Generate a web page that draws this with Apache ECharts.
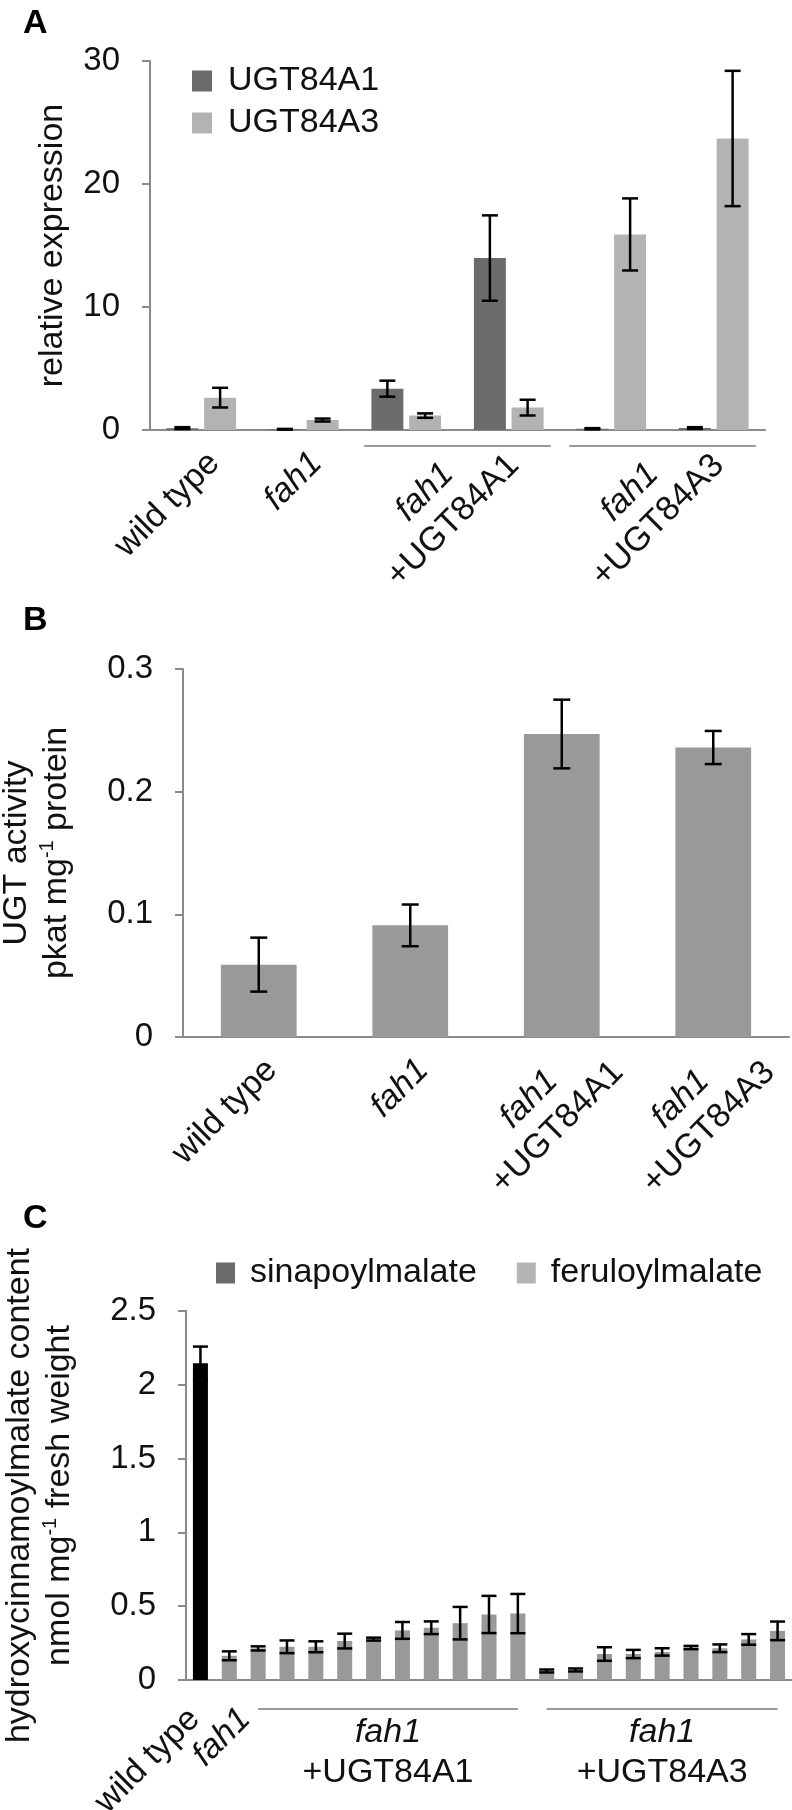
<!DOCTYPE html>
<html>
<head>
<meta charset="utf-8">
<script src="https://cdn.jsdelivr.net/npm/echarts@6/dist/echarts.min.js"></script>
<style>html,body{margin:0;padding:0;background:#fff}#chart{width:792px;height:1810px}</style>
</head>
<body>
<div id="chart"></div>
<script>
// ---------- Panel A : relative expression ----------
const categoriesA = ['wild type', 'fah1', 'fah1 +UGT84A1 (1)', 'fah1 +UGT84A1 (2)', 'fah1 +UGT84A3 (1)', 'fah1 +UGT84A3 (2)'];
const ugt84a1 = [0.15, 0.06, 3.36, 13.98, 0.10, 0.16];
const ugt84a1Err = [0.08, 0.03, 0.65, 3.47, 0.05, 0.07];
const ugt84a3 = [2.63, 0.81, 1.17, 1.82, 15.9, 23.7];
const ugt84a3Err = [0.80, 0.12, 0.18, 0.64, 2.93, 5.50];
const yTicksA = [0, 10, 20, 30];
const xLabelsA = ['wild type', 'fah1', 'fah1\n+UGT84A1', 'fah1\n+UGT84A3'];
const xLabelSpansA = [[0, 0], [1, 1], [2, 3], [4, 5]];
const bracketSpansA = [[2, 3], [4, 5]];

// ---------- Panel B : UGT activity ----------
const categoriesB = ['wild type', 'fah1', 'fah1\n+UGT84A1', 'fah1\n+UGT84A3'];
const ugtActivity = [0.059, 0.091, 0.247, 0.236];
const ugtActivityErr = [0.022, 0.017, 0.028, 0.0135];
const yTicksB = [0, 0.1, 0.2, 0.3];
const xLabelSpansB = [[0, 0], [1, 1], [2, 2], [3, 3]];

// ---------- Panel C : hydroxycinnamoylmalate content ----------
const categoriesC = ['wild type', 'fah1',
  'A1-1', 'A1-2', 'A1-3', 'A1-4', 'A1-5', 'A1-6', 'A1-7', 'A1-8', 'A1-9', 'A1-10',
  'A3-1', 'A3-2', 'A3-3', 'A3-4', 'A3-5', 'A3-6', 'A3-7', 'A3-8', 'A3-9'];
const sinapoylmalate = [2.146, null, null, null, null, null, null, null, null, null, null,
  null, null, null, null, null, null, null, null, null, null];
const sinapoylmalateErr = [0.113, null, null, null, null, null, null, null, null, null, null,
  null, null, null, null, null, null, null, null, null, null];
const feruloylmalate = [null, 0.164, 0.214, 0.225, 0.225, 0.264, 0.277, 0.336, 0.354, 0.385, 0.444, 0.450,
  0.061, 0.068, 0.176, 0.176, 0.190, 0.220, 0.215, 0.275, 0.333];
const feruloylmalateErr = [null, 0.030, 0.014, 0.043, 0.037, 0.050, 0.010, 0.057, 0.043, 0.110, 0.126, 0.133,
  0.010, 0.010, 0.046, 0.028, 0.025, 0.011, 0.026, 0.036, 0.063];
const yTicksC = [0, 0.5, 1, 1.5, 2, 2.5];
const xRotLabelsC = ['wild type', 'fah1'];
const xRotSpansC = [[0, 0], [1, 1]];
const xGroupLabelsC = ['fah1\n+UGT84A1', 'fah1\n+UGT84A3'];
const xGroupSpansC = [[2, 11], [12, 20]];

// ---------- styling / layout ----------
const W = 792;
const FONT = '"Liberation Sans", Arial, Helvetica, sans-serif';
const TXT = '#111';
const AXIS = '#8a8a8a';
const BRACKET = '#9a9a9a';
const ERR_W = 2.5;
const A_GAP = 0.32, A_BARGAP = 0.18;
const GA = { left: 150, right: 27, top: 61, height: 369 };
const GB = { left: 183, right: 3, top: 669, height: 368 };
const GC = { left: 186, right: 0, top: 1311, height: 369 };
const ROT_SHIFT_C = [-6, 16];   // px nudges of the two rotated labels in panel C
const bandA = (W - GA.left - GA.right) / categoriesA.length;
const bandB = (W - GB.left - GB.right) / categoriesB.length;
const bandC = (W - GC.left - GC.right) / categoriesC.length;

function richify(text) {
  return text.split('\n').map(l => l === 'fah1' ? '{i|fah1}' : '{n|' + l + '}').join('\n');
}
const labelRich = {
  n: { fontFamily: FONT, fontSize: 34, color: TXT, lineHeight: 40, align: 'center' },
  i: { fontFamily: FONT, fontSize: 34, color: TXT, lineHeight: 40, align: 'center', fontStyle: 'italic' }
};

function labelAxis(gridIndex, n, texts, spans, pick, rotate, margin, shiftPx, band) {
  const idx = [];
  texts.forEach((t, k) => { if (pick(t, k)) idx.push(k); });
  const pos = idx.map(k => (spans[k][0] + spans[k][1] + 1) / 2 + shiftPx / band);
  return {
    type: 'value', gridIndex, min: 0, max: n, position: 'bottom',
    axisLine: { show: false }, axisTick: { show: false }, splitLine: { show: false },
    axisLabel: {
      customValues: pos, rotate, margin, showMinLabel: true, showMaxLabel: true, hideOverlap: false,
      formatter: v => {
        const j = pos.findIndex(p => Math.abs(p - v) < 1e-6);
        return j < 0 ? '' : richify(texts[idx[j]]);
      },
      rich: labelRich
    }
  };
}

function yAxisDef(gridIndex, ticks, name, nameGap, nameRich) {
  return {
    type: 'value', gridIndex, min: ticks[0], max: ticks[ticks.length - 1], interval: ticks[1] - ticks[0],
    axisLine: { show: true, lineStyle: { color: AXIS, width: 2 } },
    axisTick: { show: true, inside: false, length: 8, lineStyle: { color: AXIS, width: 2 } },
    splitLine: { show: false },
    axisLabel: { fontFamily: FONT, fontSize: 33, color: TXT, margin: 30 },
    name, nameLocation: 'middle', nameGap,
    nameTextStyle: Object.assign({ fontFamily: FONT, fontSize: 34, color: TXT, lineHeight: 40 }, nameRich ? { rich: nameRich } : {})
  };
}

function errSeries(xi, yi, vals, errs, offsetFn, cap) {
  const data = [];
  vals.forEach((v, i) => { if (v != null && errs[i] != null) data.push([i, v, errs[i]]); });
  return {
    type: 'custom', xAxisIndex: xi, yAxisIndex: yi, z: 10, silent: true,
    data,
    renderItem: (params, api) => {
      const i = api.value(0), v = api.value(1), e = api.value(2);
      const bw = api.size([1, 0])[0];
      const cx = api.coord([i, v])[0] + offsetFn(bw);
      const yT = api.coord([i, v + e])[1];
      const yB = api.coord([i, Math.max(v - e, 0)])[1];
      const st = { stroke: '#000', lineWidth: ERR_W };
      return {
        type: 'group', children: [
          { type: 'line', shape: { x1: cx, y1: yT, x2: cx, y2: yB }, style: st },
          { type: 'line', shape: { x1: cx - cap / 2, y1: yT, x2: cx + cap / 2, y2: yT }, style: st },
          { type: 'line', shape: { x1: cx - cap / 2, y1: yB, x2: cx + cap / 2, y2: yB }, style: st }
        ]
      };
    }
  };
}

function bracketSeries(xi, yi, spans, insetFrac, drop) {
  return {
    type: 'custom', xAxisIndex: xi, yAxisIndex: yi, silent: true, z: 3,
    data: spans.map(s => [s[0], 0, s[1]]),
    renderItem: (params, api) => {
      const bw = api.size([1, 0])[0];
      const p0 = api.coord([api.value(0), 0]);
      const p1 = api.coord([api.value(2), 0]);
      const y = p0[1] + drop;
      return {
        type: 'line',
        shape: { x1: p0[0] - bw / 2 + insetFrac * bw, y1: y, x2: p1[0] + bw / 2 - insetFrac * bw, y2: y },
        style: { stroke: BRACKET, lineWidth: 2 }
      };
    }
  };
}

const offA = bw => { const w = bw * (1 - A_GAP) / (2 + A_BARGAP); return w * (1 + A_BARGAP) / 2; };
const supRich = {
  n: { fontFamily: FONT, fontSize: 34, color: TXT, lineHeight: 40 },
  s: { fontFamily: FONT, fontSize: 20, color: TXT, lineHeight: 25, verticalAlign: 'top' }
};

const catAxisBase = {
  type: 'category', position: 'bottom',
  axisLine: { show: true, lineStyle: { color: AXIS, width: 2 } },
  axisTick: { show: false }, axisLabel: { show: false }, splitLine: { show: false }
};
const isSingle = t => t.indexOf('\n') < 0;
const isDouble = t => t.indexOf('\n') >= 0;
const titleStyle = { fontFamily: FONT, fontSize: 34, fontWeight: 'bold', color: '#000' };

// one axis per rotated label in panel C (labels are too close for a shared axis)
const rotAxesC = xRotLabelsC.map((t, k) =>
  labelAxis(2, categoriesC.length, xRotLabelsC, xRotSpansC, (tt, kk) => kk === k, 45, 34, ROT_SHIFT_C[k], bandC));

const option = {
  animation: false,
  backgroundColor: '#fff',
  textStyle: { fontFamily: FONT },
  title: [
    { text: 'A', left: 23, top: 7, padding: 0, textStyle: titleStyle },
    { text: 'B', left: 23, top: 604, padding: 0, textStyle: titleStyle },
    { text: 'C', left: 23, top: 1202, padding: 0, textStyle: titleStyle }
  ],
  legend: [
    {
      data: ['UGT84A1', 'UGT84A3'], orient: 'vertical', left: 192, top: 64, padding: 0,
      itemWidth: 31, itemHeight: 21, itemGap: 8,
      icon: 'path://M0,0H20V21H0Z M31,21L31,21Z',
      textStyle: { fontFamily: FONT, fontSize: 34, color: TXT }
    },
    {
      data: ['sinapoylmalate', 'feruloylmalate'], orient: 'horizontal', left: 216, top: 1256, padding: 0,
      itemWidth: 29, itemHeight: 21, itemGap: 40,
      icon: 'path://M0,0H19V21H0Z M29,21L29,21Z',
      textStyle: { fontFamily: FONT, fontSize: 34, color: TXT }
    }
  ],
  grid: [
    Object.assign({ containLabel: false, outerBoundsMode: 'none' }, GA),
    Object.assign({ containLabel: false, outerBoundsMode: 'none' }, GB),
    Object.assign({ containLabel: false, outerBoundsMode: 'none' }, GC)
  ],
  xAxis: [
    Object.assign({}, catAxisBase, { gridIndex: 0, data: categoriesA }),                                     // 0
    labelAxis(0, categoriesA.length, xLabelsA, xLabelSpansA, isSingle, 45, 28, 13, bandA),                   // 1
    labelAxis(0, categoriesA.length, xLabelsA, xLabelSpansA, isDouble, 45, 16, 42, bandA),                   // 2
    Object.assign({}, catAxisBase, { gridIndex: 1, data: categoriesB }),                                     // 3
    labelAxis(1, categoriesB.length, categoriesB, xLabelSpansB, isSingle, 45, 28, 13, bandB),                // 4
    labelAxis(1, categoriesB.length, categoriesB, xLabelSpansB, isDouble, 45, 16, 42, bandB),                // 5
    Object.assign({}, catAxisBase, { gridIndex: 2, data: categoriesC }),                                     // 6
    labelAxis(2, categoriesC.length, xGroupLabelsC, xGroupSpansC, t => true, 0, 33, 0, bandC)                // 7
  ].concat(rotAxesC),                                                                                          // 8, 9
  yAxis: [
    yAxisDef(0, yTicksA, 'relative expression', 70),
    yAxisDef(1, yTicksB, 'UGT activity\n{n|pkat mg}{s|-1}{n| protein}', 106, supRich),
    yAxisDef(2, yTicksC, 'hydroxycinnamoylmalate content\n{n|nmol mg}{s|-1}{n| fresh weight}', 106, supRich)
  ],
  series: [
    { type: 'bar', name: 'UGT84A1', xAxisIndex: 0, yAxisIndex: 0, data: ugt84a1,
      itemStyle: { color: '#6b6b6b' }, barCategoryGap: (A_GAP * 100) + '%', barGap: (A_BARGAP * 100) + '%' },
    { type: 'bar', name: 'UGT84A3', xAxisIndex: 0, yAxisIndex: 0, data: ugt84a3,
      itemStyle: { color: '#b3b3b3' }, barCategoryGap: (A_GAP * 100) + '%', barGap: (A_BARGAP * 100) + '%' },
    errSeries(0, 0, ugt84a1, ugt84a1Err, bw => -offA(bw), 16),
    errSeries(0, 0, ugt84a3, ugt84a3Err, bw => offA(bw), 16),
    bracketSeries(0, 0, bracketSpansA, 0.09, 16),

    { type: 'bar', name: 'UGT activity', xAxisIndex: 3, yAxisIndex: 1, data: ugtActivity,
      itemStyle: { color: '#999999' }, barCategoryGap: '50%' },
    errSeries(3, 1, ugtActivity, ugtActivityErr, bw => 0, 17),

    { type: 'bar', name: 'sinapoylmalate', xAxisIndex: 6, yAxisIndex: 2, stack: 'c',
      itemStyle: { color: '#6b6b6b' }, barCategoryGap: '48%',
      data: sinapoylmalate.map(v => ({ value: v, itemStyle: { color: '#000' } })) },
    { type: 'bar', name: 'feruloylmalate', xAxisIndex: 6, yAxisIndex: 2, stack: 'c',
      itemStyle: { color: '#b5b5b5' }, barCategoryGap: '48%',
      data: feruloylmalate.map(v => ({ value: v, itemStyle: { color: '#999999' } })) },
    errSeries(6, 2, sinapoylmalate, sinapoylmalateErr, bw => 0, 15),
    errSeries(6, 2, feruloylmalate, feruloylmalateErr, bw => 0, 15),
    bracketSeries(6, 2, xGroupSpansC, 0.5, 29)
  ]
};

const chart = echarts.init(document.getElementById('chart'), null, { renderer: 'canvas' });
chart.setOption(option);
</script>
</body>
</html>
